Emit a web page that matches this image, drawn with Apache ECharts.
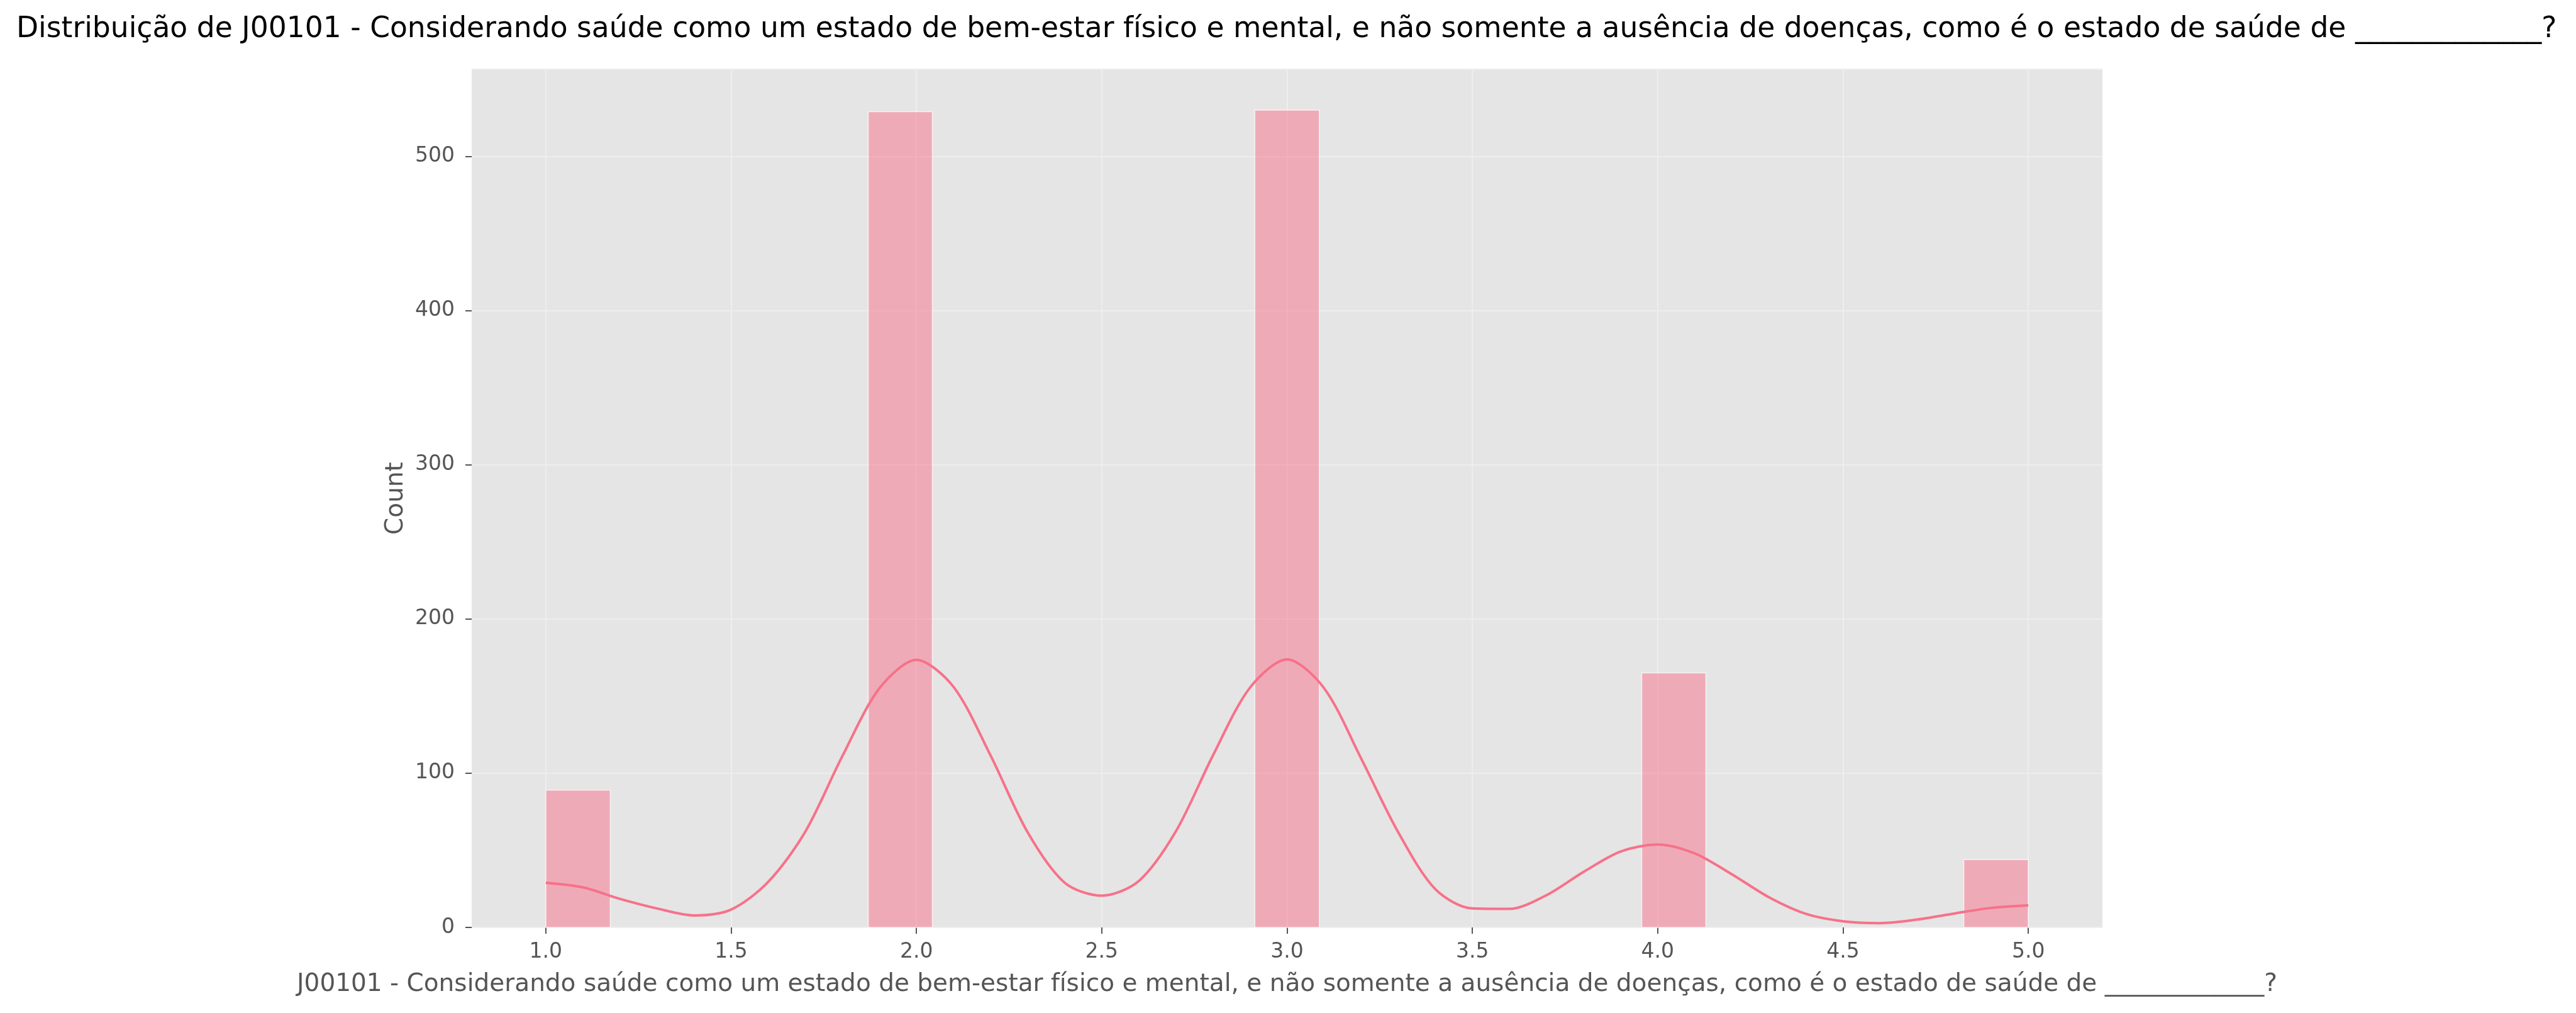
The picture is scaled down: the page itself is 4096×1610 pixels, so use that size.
<!DOCTYPE html>
<html><head><meta charset="utf-8">
<script src="https://cdn.jsdelivr.net/npm/echarts@6/dist/echarts.min.js"></script>
<style>html,body{margin:0;padding:0;background:#fff}#c{width:4096px;height:1610px}</style>
</head><body><div id="c"></div>
<script>
const titleText = 'Distribuição de J00101 - Considerando saúde como um estado de bem-estar físico e mental, e não somente a ausência de doenças, como é o estado de saúde de _____________?';
const xLabel = 'J00101 - Considerando saúde como um estado de bem-estar físico e mental, e não somente a ausência de doenças, como é o estado de saúde de _____________?';
const yLabel = 'Count';

// histogram bins (non-empty ones)
const binLeft  = [1.000, 1.870, 2.913, 3.957, 4.826];
const binRight = [1.174, 2.043, 3.087, 4.130, 5.000];
const counts   = [89, 529, 530, 165, 44];

// KDE curve
const kdeX = [1.0,1.1,1.2,1.3,1.4,1.5,1.6,1.7,1.8,1.9,2.0,2.1,2.2,2.3,2.4,2.5,2.6,2.7,2.8,2.9,3.0,3.1,3.2,3.3,3.4,3.5,3.6,3.7,3.8,3.9,4.0,4.1,4.2,4.3,4.4,4.5,4.6,4.7,4.8,4.9,5.0];
const kdeY = [29.0,26.0,18.5,12.3,7.8,11.6,29.5,62.0,111.0,155.0,173.5,156.0,111.5,61.7,29.0,20.6,30.1,62.3,111.5,155.5,173.8,155.1,109.5,61.7,24.8,12.3,12.0,20.9,36.0,49.2,53.8,48.0,34.5,19.6,8.8,4.0,2.8,5.1,9.0,12.7,14.3];

// axis ticks
const xTicks = [1.0,1.5,2.0,2.5,3.0,3.5,4.0,4.5,5.0];
const xMin = 0.8, xMax = 5.2;
const yMin = 0, yMax = 556.5, yStep = 100;

const FONT = 'DejaVu Sans';
const chart = echarts.init(document.getElementById('c'), null, {renderer:'canvas'});

const histData = binLeft.map((l, i) => [l, binRight[i], counts[i]]);
const kdeData = kdeX.map((x, i) => [x, kdeY[i]]);

chart.setOption({
  animation: false,
  backgroundColor: '#ffffff',
  title: {
    text: titleText,
    left: 26, top: 24, padding: 0,
    textStyle: {fontFamily: FONT, fontSize: 45.6, fontWeight: 'normal', color: '#000000'}
  },
  grid: {
    left: 750, right: 753, top: 110, bottom: 136,
    show: true, backgroundColor: '#E5E5E5', borderWidth: 0
  },
  xAxis: {
    type: 'value', min: xMin, max: xMax,
    name: xLabel, nameLocation: 'middle', nameGap: 71,
    nameTextStyle: {fontFamily: FONT, fontSize: 39, color: '#555555'},
    axisLine: {show: false},
    axisTick: {show: true, length: 10, lineStyle: {color: '#555555', width: 2}, customValues: xTicks},
    axisLabel: {fontFamily: FONT, fontSize: 33, color: '#555555', margin: 23, customValues: xTicks,
      formatter: v => Number(v).toFixed(1)},
    splitLine: {show: true, lineStyle: {color: '#EEEEEE', width: 2}, customValues: xTicks}
  },
  yAxis: {
    type: 'value', min: yMin, max: yMax, interval: yStep,
    name: yLabel, nameLocation: 'middle', nameGap: 97, nameRotate: 90,
    nameTextStyle: {fontFamily: FONT, fontSize: 39, color: '#555555'},
    axisLine: {show: false},
    axisTick: {show: true, length: 10, lineStyle: {color: '#555555', width: 2}},
    axisLabel: {fontFamily: FONT, fontSize: 33, color: '#555555', margin: 27, showMaxLabel: false},
    splitLine: {show: true, lineStyle: {color: '#EEEEEE', width: 2}}
  },
  series: [
    {
      type: 'custom', z: 2,
      data: histData,
      encode: {x: [0, 1], y: 2},
      renderItem: function (params, api) {
        const p0 = api.coord([api.value(0), 0]);
        const p1 = api.coord([api.value(1), api.value(2)]);
        return {
          type: 'rect',
          shape: {x: p0[0], y: p1[1], width: p1[0] - p0[0], height: p0[1] - p1[1]},
          style: {fill: 'rgba(247,113,137,0.5)', stroke: 'rgba(255,255,255,0.7)', lineWidth: 1.5}
        };
      }
    },
    {
      type: 'line', z: 3,
      data: kdeData,
      smooth: 0.3,
      showSymbol: false,
      lineStyle: {color: '#f77189', width: 4}
    }
  ]
});
</script></body></html>
